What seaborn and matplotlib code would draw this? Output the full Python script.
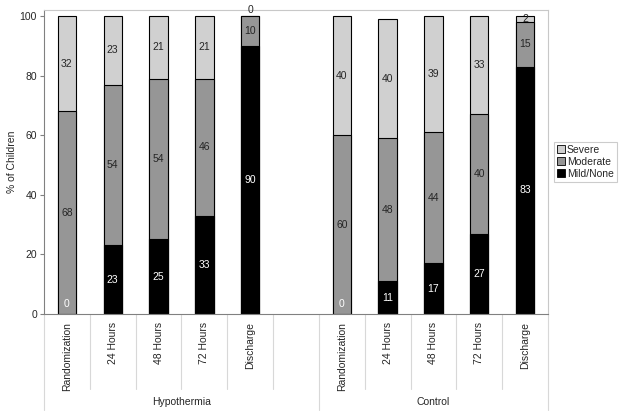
import numpy as np
import pandas as pd
import matplotlib
matplotlib.use("Agg")
import matplotlib.pyplot as plt
import matplotlib.transforms as mtransforms
from matplotlib.patches import Patch
import seaborn as sns

# values (% of children)
groups = ["Hypothermia", "Control"]
times = ["Randomization", "24 Hours", "48 Hours", "72 Hours", "Discharge"]
mild_hypo = [0, 23, 25, 33, 90]
mod_hypo = [68, 54, 54, 46, 10]
sev_hypo = [32, 23, 21, 21, 0]
mild_ctrl = [0, 11, 17, 27, 83]
mod_ctrl = [60, 48, 44, 40, 15]
sev_ctrl = [40, 40, 39, 33, 2]

sns.set_style("white")
plt.rcParams["font.family"] = ["Liberation Sans", "DejaVu Sans"]
fs = 7.5

rows = []
for g, (mi, mo, se) in enumerate([(mild_hypo, mod_hypo, sev_hypo), (mild_ctrl, mod_ctrl, sev_ctrl)]):
    for i, t in enumerate(times):
        rows.append({"group": groups[g], "time": t, "pos": g * 6 + i,
                     "mild": mi[i], "moderate": mo[i], "severe": se[i]})
df = pd.DataFrame(rows)
df["mod_top"] = df["mild"] + df["moderate"]
df["total"] = df["mod_top"] + df["severe"]

c_sev = "#D0D0D0"
c_mod = "#969696"
c_mild = "#000000"

fig = plt.figure(figsize=(6.22, 4.15), dpi=100)
ax = fig.add_axes([44 / 622, 101 / 415, 504 / 622, 304 / 415])

kw = dict(native_scale=True, width=0.4, edgecolor="black", linewidth=0.8, ax=ax)
sns.barplot(data=df, x="pos", y="total", color=c_sev, saturation=1, **kw)
sns.barplot(data=df, x="pos", y="mod_top", color=c_mod, saturation=1, **kw)
sns.barplot(data=df[df["mild"] > 0], x="pos", y="mild", color=c_mild, saturation=1, **kw)

# segment labels
for _, r in df.iterrows():
    x = r["pos"]
    if r["mild"] == 0:
        ax.annotate("0", (x, 0), xytext=(0, 7.5), textcoords="offset points",
                    ha="center", va="center", color="white", fontsize=fs)
    else:
        ax.text(x, r["mild"] / 2, str(r["mild"]), ha="center", va="center", color="white", fontsize=fs)
    ax.text(x, r["mild"] + r["moderate"] / 2, str(r["moderate"]), ha="center", va="center", fontsize=fs)
    if r["severe"] == 0:
        ax.annotate("0", (x, r["mod_top"]), xytext=(0, 4.5), textcoords="offset points",
                    ha="center", va="center", fontsize=fs, annotation_clip=False)
    else:
        ax.text(x, r["mod_top"] + r["severe"] / 2, str(r["severe"]), ha="center", va="center", fontsize=fs)

ax.set_xlim(-0.5, 10.5)
ax.set_ylim(0, 102)
ax.set_yticks(range(0, 101, 20))
ax.set_ylabel("% of Children", fontsize=fs, labelpad=2)
ax.set_xlabel("")
ax.set_xticks(df["pos"])
ax.set_xticklabels(df["time"], rotation=90, va="top")
ax.tick_params(axis="x", length=0, pad=6)
ax.tick_params(axis="y", length=3, width=0.8, color="#808080", left=True, pad=2)
ax.tick_params(labelsize=fs)

for s in ["top", "right"]:
    ax.spines[s].set_color("#C8C8C8")
    ax.spines[s].set_linewidth(0.8)
ax.spines["left"].set_color("#808080")
ax.spines["bottom"].set_color("#808080")
ax.spines["left"].set_linewidth(0.8)
ax.spines["bottom"].set_linewidth(0.8)

# category separators under the axis
trans = mtransforms.blended_transform_factory(ax.transData, ax.transAxes)
for k in range(12):
    xb = k - 0.5
    low = -0.315 if k in (0, 6, 11) else -0.247
    ax.plot([xb, xb], [0, low], transform=trans, color="#D8D8D8", lw=0.8, clip_on=False)
for g, name in enumerate(groups):
    sub = df[df["group"] == name]["pos"]
    left = sub.min() - 0.5
    right = 10.5 if g == 1 else sub.max() + 1.5
    ax.text((left + right) / 2, -0.29, name, transform=trans, ha="center", va="center", fontsize=fs)

handles = [Patch(facecolor=c_sev, edgecolor="black", lw=0.6, label="Severe"),
           Patch(facecolor=c_mod, edgecolor="black", lw=0.6, label="Moderate"),
           Patch(facecolor=c_mild, edgecolor="black", lw=0.6, label="Mild/None")]
leg = ax.legend(handles=handles, loc="center left", bbox_to_anchor=(1.012, 0.5), fontsize=fs,
                frameon=True, fancybox=False, edgecolor="#C0C0C0", handlelength=0.8,
                handleheight=0.8, handletextpad=0.2, borderpad=0.25, borderaxespad=0,
                labelspacing=0.2)
leg.get_frame().set_linewidth(0.8)

fig.savefig("out.png", dpi=100)
